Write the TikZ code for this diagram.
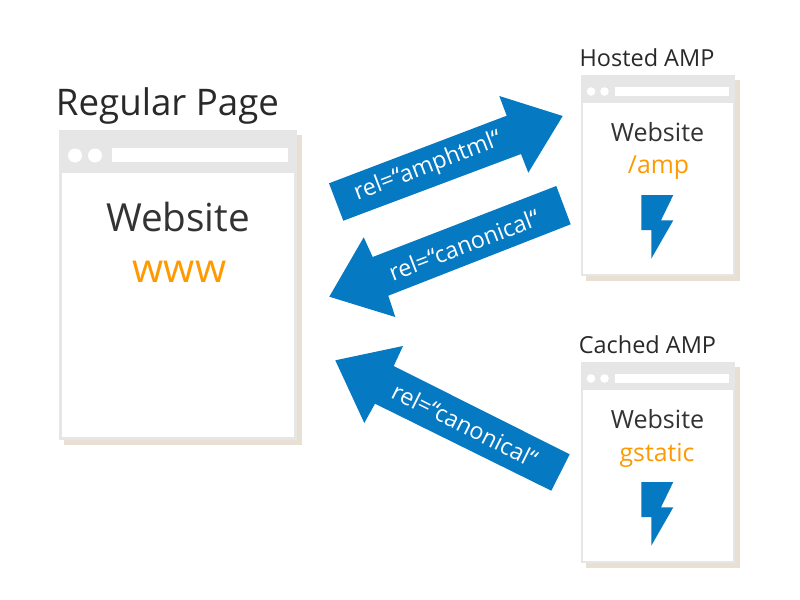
\documentclass[tikz,border=0pt]{standalone}
\usepackage{fontspec}
\setmainfont{Open Sans}
\definecolor{ampblue}{HTML}{0679C3}
\definecolor{amporange}{HTML}{FF9900}
\definecolor{pagegray}{HTML}{E6E6E6}
\definecolor{pageshadow}{HTML}{E8E0D3}
\definecolor{pagetext}{HTML}{333333}
\tikzset{
    bigtitle/.style={inner sep=0, text=pagetext!80!black, font=\fontsize{27.5}{30}\selectfont},
    smalltitle/.style={inner sep=0, text=pagetext!80!black, font=\fontsize{17.6}{20}\selectfont},
    bigsite/.style={inner sep=0, text=pagetext, font=\fontsize{29}{30}\selectfont},
    smallsite/.style={inner sep=0, text=pagetext, font=\fontsize{18.8}{20}\selectfont},
    bigpath/.style={inner sep=0, text=amporange, font=\fontsize{30}{30}\selectfont},
    smallpath/.style={inner sep=0, text=amporange, font=\fontsize{18.6}{20}\selectfont},
    reltext/.style={inner sep=0, text=white, font=\fontsize{17.5}{18}\selectfont},
    blockarrow/.style={fill=ampblue},
}
\begin{document}
\begin{tikzpicture}[x=0.75pt, y=-0.75pt]
    \useasboundingbox[fill=white] (0, 0) rectangle (800, 600);

    % regular page
    \fill[pageshadow] (64, 135) rectangle (302, 445);
    \fill[pagegray] (59, 130) rectangle (297, 440);
    \fill[white] (62, 172.7) rectangle (294, 437);
    \fill[white] (75, 155.5) circle (7) (95, 155.5) circle (7);
    \fill[white] (111.7, 148) rectangle (287.7, 161.7);
    \node[bigtitle] (regular) at (167.5, 106) {Regular Page};
    \node[bigsite] (regularsite) at (178, 217) {Website};
    \node[bigpath] (regularpath) at (179.5, 272) {www};

    % hosted page
    \fill[pageshadow] (586, 80) rectangle (740, 281);
    \fill[pagegray] (581, 75) rectangle (735, 276);
    \fill[white] (583, 102.7) rectangle (733, 274);
    \fill[white] (591, 91.5) circle (4.3) (604.5, 91.5) circle (4.3);
    \fill[white] (615, 87) rectangle (729, 96);
    \node[smalltitle] (hosted) at (647, 58) {Hosted AMP};
    \node[smallsite] (hostedsite) at (657.5, 132) {Website};
    \node[smallpath] (hostedpath) at (658.5, 168) {/amp};
    \fill[blockarrow] (641.3, 195) -- (673.3, 195) -- (661, 220.3) -- (673.3, 220.3) -- (651.3, 258.7) -- (651.3, 230) -- (641.3, 230) -- cycle;

    % cached page
    \fill[pageshadow] (586, 367) rectangle (740, 568);
    \fill[pagegray] (581, 362) rectangle (735, 563);
    \fill[white] (583, 389.7) rectangle (733, 561);
    \fill[white] (591, 378.5) circle (4.3) (604.5, 378.5) circle (4.3);
    \fill[white] (615, 374) rectangle (729, 383);
    \node[smalltitle] (cached) at (647.5, 345) {Cached AMP};
    \node[smallsite] (cachedsite) at (657.5, 419) {Website};
    \node[smallpath] (cachedpath) at (657, 455) {gstatic};
    \fill[blockarrow] (641.3, 482) -- (673.3, 482) -- (661, 507.3) -- (673.3, 507.3) -- (651.3, 545.7) -- (651.3, 517) -- (641.3, 517) -- cycle;

    % arrows
    \fill[blockarrow] (329, 183.3) -- (506.7, 115.7) -- (499.3, 96) -- (562.7, 116) -- (528.3, 172.7) -- (521, 154) -- (343.3, 220.7) -- cycle;
    \node[reltext, rotate=21] (amphtml) at (428, 167) {rel=“amphtml“};

    \fill[blockarrow] (556.3, 186) -- (570.7, 224.3) -- (388.3, 295.7) -- (395.3, 317) -- (329.3, 296.7) -- (363.7, 237.3) -- (372.7, 257) -- cycle;
    \node[reltext, rotate=21] (canonicaltop) at (464, 245) {rel=“canonical“};

    \fill[blockarrow] (569.7, 454.3) -- (551.3, 490.7) -- (375, 403.7) -- (364.3, 423) -- (335.3, 360.3) -- (403, 346) -- (393.7, 366) -- cycle;
    \node[reltext, rotate=-26.6] (canonicalbottom) at (465, 425) {rel=“canonical“};
\end{tikzpicture}
\end{document}
